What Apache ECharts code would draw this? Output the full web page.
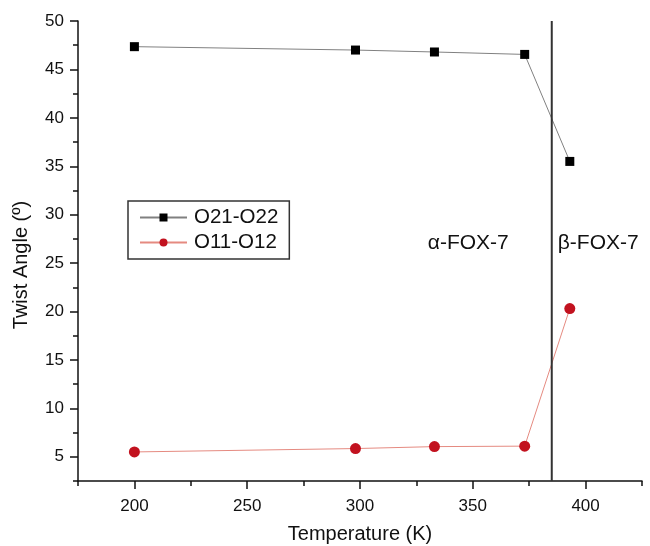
<!DOCTYPE html>
<html>
<head>
<meta charset="utf-8">
<script src="https://cdn.jsdelivr.net/npm/echarts@6/dist/echarts.min.js"></script>
<style>html,body{margin:0;padding:0;background:#fff}#c{width:650px;height:546px}</style>
</head>
<body>
<div id="c"></div>
<script>
var temperatures = [200, 298, 333, 373, 393];
var o21o22 = [47.35, 47.0, 46.8, 46.55, 35.5];
var o11o12 = [5.5, 5.85, 6.05, 6.1, 20.3];
var phaseBoundary = 385;
var xMajorTicks = [200, 250, 300, 350, 400];
var xMinorTicks = [175, 225, 275, 325, 375, 425];
var yMajorTicks = [5, 10, 15, 20, 25, 30, 35, 40, 45, 50];
var yMinorTicks = [2.5, 7.5, 12.5, 17.5, 22.5, 27.5, 32.5, 37.5, 42.5, 47.5];
var xRange = [175, 425];
var yRange = [2.5, 50];
var phaseLabels = ['α-FOX-7', 'β-FOX-7'];

function pairs(xs, ys) { return xs.map(function (x, i) { return [x, ys[i]]; }); }

var font = 'Liberation Sans, Arial, sans-serif';
var chart = echarts.init(document.getElementById('c'), null, {renderer: 'canvas'});

var axisLineStyle = {color: '#111', width: 1.5};
chart.setOption({
  animation: false,
  grid: {left: 78, right: 8, top: 21, bottom: 65, containLabel: false, outerBoundsMode: 'none'},
  legend: {
    left: 128, top: 201,
    orient: 'vertical',
    padding: [6, 11, 6, 11],
    itemGap: 4,
    itemWidth: 47, itemHeight: 10,
    borderColor: '#333', borderWidth: 1.5,
    textStyle: {fontFamily: font, fontSize: 20.5, color: '#111', padding: [0, 0, 0, 2]},
    data: ['O21-O22', 'O11-O12']
  },
  xAxis: [{
    type: 'value', min: xRange[0], max: xRange[1],
    name: 'Temperature (K)', nameLocation: 'middle', nameGap: 43,
    nameTextStyle: {fontFamily: font, fontSize: 20, color: '#111'},
    axisLine: {show: true, lineStyle: axisLineStyle},
    axisTick: {show: true, inside: false, length: 8, customValues: xMajorTicks, lineStyle: axisLineStyle},
    axisLabel: {customValues: xMajorTicks, margin: 17, fontFamily: font, fontSize: 17, color: '#111'},
    splitLine: {show: false}
  }, {
    type: 'value', min: xRange[0], max: xRange[1], position: 'bottom',
    axisLine: {show: false},
    axisTick: {show: true, length: 5, customValues: xMinorTicks, lineStyle: axisLineStyle},
    axisLabel: {show: false},
    splitLine: {show: false}
  }],
  yAxis: [{
    type: 'value', min: yRange[0], max: yRange[1],
    axisLine: {show: true, lineStyle: axisLineStyle},
    axisTick: {show: true, length: 8, customValues: yMajorTicks, lineStyle: axisLineStyle},
    axisLabel: {customValues: yMajorTicks, margin: 14, fontFamily: font, fontSize: 17, color: '#111'},
    splitLine: {show: false}
  }, {
    type: 'value', min: yRange[0], max: yRange[1], position: 'left',
    axisLine: {show: false},
    axisTick: {show: true, length: 5, customValues: yMinorTicks, lineStyle: axisLineStyle},
    axisLabel: {show: false},
    splitLine: {show: false}
  }],
  series: [{
    name: 'O21-O22', type: 'line', data: pairs(temperatures, o21o22),
    symbol: 'rect', symbolSize: 9,
    itemStyle: {color: '#000'},
    lineStyle: {color: '#808080', width: 1}
  }, {
    name: 'O11-O12', type: 'line', data: pairs(temperatures, o11o12),
    symbol: 'circle', symbolSize: 11,
    itemStyle: {color: '#c2121f'},
    lineStyle: {color: '#e58a80', width: 1}
  }, {
    name: 'boundary', type: 'line', data: [[phaseBoundary, yRange[0]], [phaseBoundary, yRange[1]]],
    symbol: 'none', lineStyle: {color: '#333', width: 2}, silent: true
  }]
});

var lp = chart.convertToPixel({xAxisIndex: 0, yAxisIndex: 0}, [phaseBoundary, 27.1]);
var yTop = chart.convertToPixel({yAxisIndex: 0}, yRange[1]);
var yBot = chart.convertToPixel({yAxisIndex: 0}, yRange[0]);
chart.setOption({
  graphic: [{
    type: 'text', x: lp[0] - 43, y: lp[1],
    style: {text: phaseLabels[0], fontFamily: font, fontSize: 21, fill: '#111', align: 'right', verticalAlign: 'middle'}
  }, {
    type: 'text', x: lp[0] + 6, y: lp[1],
    style: {text: phaseLabels[1], fontFamily: font, fontSize: 21, fill: '#111', align: 'left', verticalAlign: 'middle'}
  }, {
    type: 'text', x: 21, y: (yTop + yBot) / 2 + 14, rotation: Math.PI / 2,
    style: {text: 'Twist Angle (º)', fontFamily: font, fontSize: 20, fill: '#111', align: 'center', verticalAlign: 'middle'}
  }]
});
</script>
</body>
</html>
